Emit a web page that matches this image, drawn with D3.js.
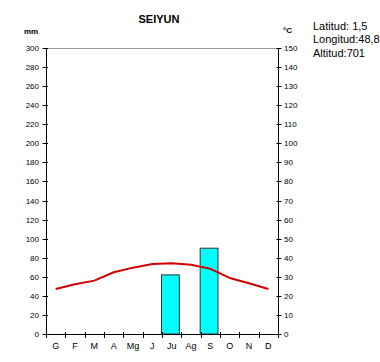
<!DOCTYPE html>
<html>
<head>
<meta charset="utf-8">
<script src="https://cdn.jsdelivr.net/npm/d3@7"></script>
<style>
  body { margin: 0; background: #fff; }
  svg text { font-family: "Liberation Sans", Arial, sans-serif; }
</style>
</head>
<body>
<svg id="chart" width="380" height="362"></svg>
<script>
// dati climatici Seiyun
const months = ['G', 'F', 'M', 'A', 'Mg', 'J', 'Ju', 'Ag', 'S', 'O', 'N', 'D']
const precip = [0, 0, 0, 0, 0, 0, 62, 0, 90, 0, 0, 0]
const temp = [23.6, 26.1, 28.0, 32.4, 34.8, 36.7, 37.1, 36.3, 34.2, 29.4, 26.6, 23.6]
const mmTicks = [0, 20, 40, 60, 80, 100, 120, 140, 160, 180, 200, 220, 240, 260, 280, 300]
const cTicks = [0, 10, 20, 30, 40, 50, 60, 70, 80, 90, 100, 110, 120, 130, 140, 150]
const info = ['Latitud: 1,5', 'Longitud:48,8', 'Altitud:701']

const pLeft = 46, pRight = 278, pTop = 48, pBottom = 334
const svg = d3.select('#chart')

const x = d3.scaleBand().domain(months).range([pLeft, pRight]).padding(0)
const yP = d3.scaleLinear().domain([0, 300]).range([pBottom, pTop])
const yT = d3.scaleLinear().domain([0, 150]).range([pBottom, pTop])

// linea superiore grigia
svg.append('line')
    .attr('x1', pLeft).attr('x2', pRight)
    .attr('y1', pTop + 0.5).attr('y2', pTop + 0.5)
    .attr('stroke', '#999').attr('stroke-width', 1)

// barre precipitazioni
svg.append('g').selectAll('rect')
    .data(months.map((m, i) => ({ m, v: precip[i] })).filter(d => d.v > 0))
    .enter()
    .append('rect')
    .attr('x', d => x(d.m) - 0.5)
    .attr('y', d => yP(d.v))
    .attr('width', x.bandwidth() - 1.5)
    .attr('height', d => pBottom - yP(d.v))
    .attr('fill', '#00ffff')
    .attr('stroke', '#333')
    .attr('stroke-width', 1)

// linea temperatura
const line = d3.line()
    .x((d, i) => x(months[i]) + x.bandwidth() / 2)
    .y(d => yT(d))

svg.append('path')
    .datum(temp)
    .attr('d', line)
    .attr('fill', 'none')
    .attr('stroke', '#d00000')
    .attr('stroke-width', 2)
    .attr('stroke-linejoin', 'round')

// asse sinistro (mm)
const gL = svg.append('g')
gL.append('line')
    .attr('x1', pLeft + 0.5).attr('x2', pLeft + 0.5)
    .attr('y1', pTop).attr('y2', pBottom + 4)
    .attr('stroke', '#000')
gL.selectAll('.tk').data(mmTicks).enter().append('line')
    .attr('x1', pLeft - 3.5).attr('x2', pLeft + 2)
    .attr('y1', d => Math.round(yP(d)) + 0.5).attr('y2', d => Math.round(yP(d)) + 0.5)
    .attr('stroke', '#000')
gL.selectAll('text').data(mmTicks).enter().append('text')
    .attr('x', 39).attr('y', d => yP(d) + 3)
    .attr('text-anchor', 'end')
    .attr('font-size', 8)
    .text(d => d)

// asse destro (°C)
const gR = svg.append('g')
gR.append('line')
    .attr('x1', pRight + 0.5).attr('x2', pRight + 0.5)
    .attr('y1', pTop).attr('y2', pBottom + 4)
    .attr('stroke', '#000')
gR.selectAll('.tk').data(cTicks).enter().append('line')
    .attr('x1', pRight - 1.5).attr('x2', pRight + 3.5)
    .attr('y1', d => Math.round(yT(d)) + 0.5).attr('y2', d => Math.round(yT(d)) + 0.5)
    .attr('stroke', '#000')
gR.selectAll('text').data(cTicks).enter().append('text')
    .attr('x', 284).attr('y', d => yT(d) + 3)
    .attr('font-size', 8)
    .text(d => d)

// asse x
const gX = svg.append('g')
gX.append('line')
    .attr('x1', pLeft - 3).attr('x2', pRight + 3)
    .attr('y1', pBottom + 0.5).attr('y2', pBottom + 0.5)
    .attr('stroke', '#000')
gX.selectAll('.tk').data(months.slice(1)).enter().append('line')
    .attr('x1', d => Math.round(x(d)) + 0.5).attr('x2', d => Math.round(x(d)) + 0.5)
    .attr('y1', pBottom - 2).attr('y2', pBottom + 4)
    .attr('stroke', '#000')
gX.selectAll('text').data(months).enter().append('text')
    .attr('x', d => x(d) + x.bandwidth() / 2)
    .attr('y', 349)
    .attr('text-anchor', 'middle')
    .attr('font-size', 9)
    .text(d => d)

// titoli
svg.append('text')
    .attr('x', 159).attr('y', 23)
    .attr('text-anchor', 'middle')
    .attr('font-size', 11).attr('font-weight', 'bold')
    .text('SEIYUN')
svg.append('text')
    .attr('x', 24).attr('y', 34)
    .attr('font-size', 8).attr('font-weight', 'bold')
    .text('mm')
svg.append('text')
    .attr('x', 283).attr('y', 33)
    .attr('font-size', 8).attr('font-weight', 'bold')
    .text('°C')

svg.append('g').selectAll('text')
    .data(info)
    .enter()
    .append('text')
    .attr('x', 313)
    .attr('y', (d, i) => 29.5 + i * 13.5)
    .attr('font-size', 11)
    .text(d => d)
</script>
</body>
</html>
